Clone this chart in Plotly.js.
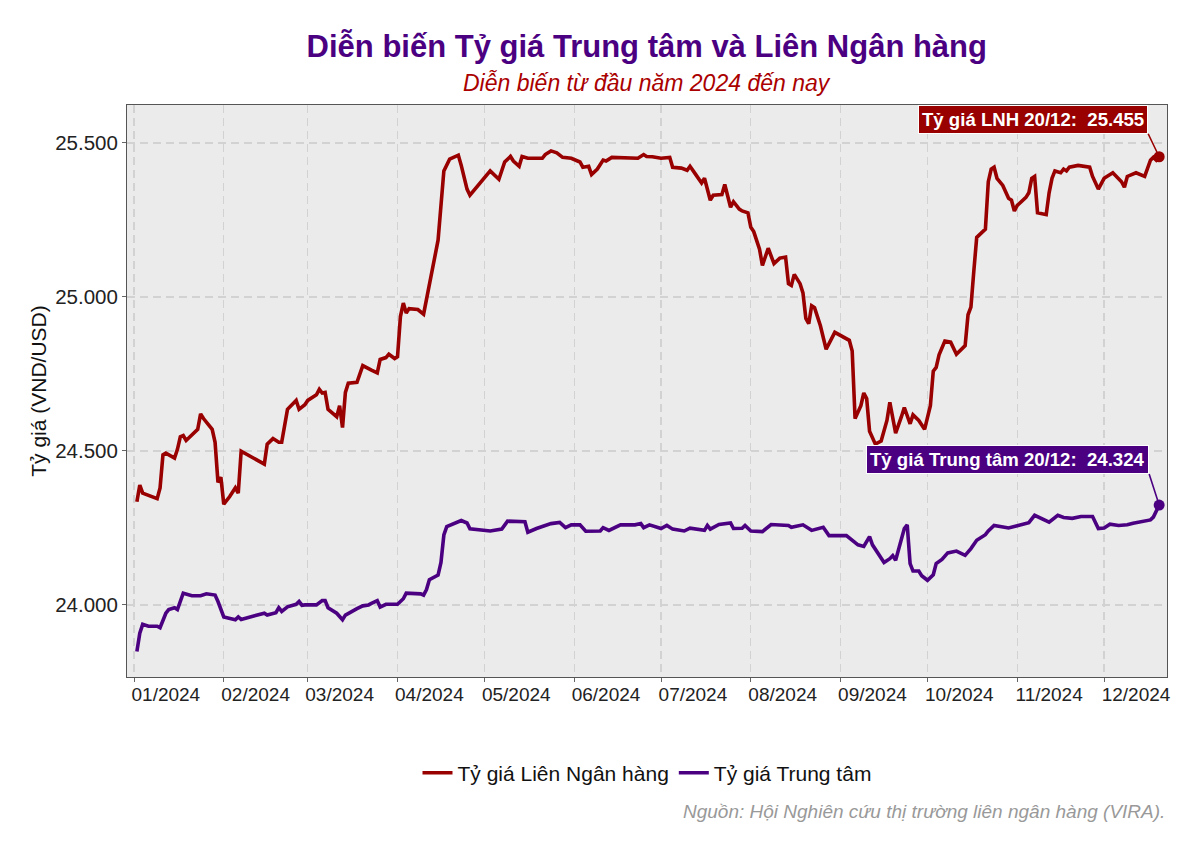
<!DOCTYPE html>
<html>
<head>
<meta charset="utf-8">
<script src="https://cdn.plot.ly/plotly-3.0.1.min.js"></script>
<style>html,body{margin:0;padding:0;background:#fff;}#chart{width:1200px;height:857px;}</style>
</head>
<body>
<div id="chart"></div>
<script>
// ---- Data ----
const lnhDates = ["2024-01-02","2024-01-03","2024-01-04","2024-01-09","2024-01-10","2024-01-11","2024-01-12","2024-01-15","2024-01-16","2024-01-17","2024-01-18","2024-01-19","2024-01-23","2024-01-24","2024-01-25","2024-01-28","2024-01-29","2024-01-30","2024-01-31","2024-02-01","2024-02-03","2024-02-05","2024-02-06","2024-02-07","2024-02-15","2024-02-16","2024-02-18","2024-02-20","2024-02-21","2024-02-23","2024-02-26","2024-02-27","2024-02-29","2024-03-01","2024-03-04","2024-03-05","2024-03-06","2024-03-07","2024-03-08","2024-03-11","2024-03-12","2024-03-13","2024-03-14","2024-03-15","2024-03-18","2024-03-20","2024-03-23","2024-03-25","2024-03-26","2024-03-28","2024-03-29","2024-03-31","2024-04-01","2024-04-02","2024-04-03","2024-04-04","2024-04-05","2024-04-08","2024-04-10","2024-04-11","2024-04-13","2024-04-15","2024-04-17","2024-04-19","2024-04-22","2024-04-23","2024-04-25","2024-04-26","2024-05-03","2024-05-06","2024-05-08","2024-05-10","2024-05-11","2024-05-13","2024-05-14","2024-05-16","2024-05-21","2024-05-22","2024-05-24","2024-05-26","2024-05-28","2024-05-31","2024-06-03","2024-06-04","2024-06-06","2024-06-07","2024-06-09","2024-06-11","2024-06-12","2024-06-14","2024-06-23","2024-06-25","2024-06-26","2024-06-28","2024-07-01","2024-07-04","2024-07-05","2024-07-08","2024-07-10","2024-07-11","2024-07-13","2024-07-15","2024-07-16","2024-07-18","2024-07-19","2024-07-22","2024-07-23","2024-07-25","2024-07-26","2024-07-28","2024-07-29","2024-07-31","2024-08-01","2024-08-02","2024-08-04","2024-08-05","2024-08-07","2024-08-09","2024-08-11","2024-08-13","2024-08-14","2024-08-15","2024-08-16","2024-08-18","2024-08-19","2024-08-20","2024-08-21","2024-08-22","2024-08-23","2024-08-25","2024-08-27","2024-08-28","2024-08-30","2024-09-04","2024-09-05","2024-09-06","2024-09-08","2024-09-09","2024-09-10","2024-09-11","2024-09-13","2024-09-15","2024-09-17","2024-09-18","2024-09-20","2024-09-22","2024-09-23","2024-09-25","2024-09-26","2024-09-28","2024-09-30","2024-10-02","2024-10-03","2024-10-04","2024-10-05","2024-10-07","2024-10-09","2024-10-11","2024-10-14","2024-10-15","2024-10-16","2024-10-17","2024-10-18","2024-10-21","2024-10-22","2024-10-23","2024-10-24","2024-10-25","2024-10-27","2024-10-29","2024-10-30","2024-10-31","2024-11-01","2024-11-04","2024-11-05","2024-11-06","2024-11-07","2024-11-08","2024-11-11","2024-11-12","2024-11-13","2024-11-14","2024-11-16","2024-11-17","2024-11-18","2024-11-19","2024-11-22","2024-11-26","2024-11-27","2024-11-29","2024-12-01","2024-12-04","2024-12-07","2024-12-08","2024-12-09","2024-12-12","2024-12-15","2024-12-17","2024-12-18","2024-12-19","2024-12-20"];
const lnhValues = [24335,24389,24363,24345,24380,24487,24493,24477,24505,24546,24550,24534,24570,24620,24605,24570,24528,24398,24415,24327,24351,24380,24363,24499,24457,24522,24540,24528,24528,24635,24664,24635,24650,24664,24682,24700,24688,24690,24635,24611,24647,24576,24690,24720,24723,24777,24762,24753,24797,24803,24814,24800,24806,24936,24980,24948,24962,24959,24944,24991,25084,25184,25409,25447,25460,25427,25350,25330,25409,25382,25438,25456,25441,25424,25456,25450,25450,25462,25474,25468,25453,25450,25438,25421,25424,25397,25415,25444,25441,25453,25450,25462,25456,25455,25450,25453,25421,25418,25411,25424,25397,25370,25385,25314,25330,25332,25365,25291,25309,25285,25279,25273,25226,25212,25155,25102,25158,25108,25126,25129,25043,25037,25073,25043,25013,24930,24913,24971,24965,24907,24830,24848,24885,24859,24824,24605,24647,24688,24670,24564,24522,24532,24599,24658,24558,24611,24641,24588,24617,24599,24570,24647,24759,24771,24812,24857,24853,24814,24842,24942,24967,25084,25193,25220,25374,25415,25421,25385,25362,25320,25314,25279,25297,25323,25338,25385,25391,25273,25267,25338,25385,25409,25403,25415,25409,25421,25427,25421,25391,25350,25385,25403,25374,25356,25391,25403,25391,25444,25453,25444,25455];

const ttDates = ["2024-01-02","2024-01-03","2024-01-04","2024-01-06","2024-01-09","2024-01-10","2024-01-12","2024-01-13","2024-01-15","2024-01-16","2024-01-18","2024-01-19","2024-01-21","2024-01-24","2024-01-26","2024-01-29","2024-01-30","2024-02-01","2024-02-03","2024-02-05","2024-02-06","2024-02-07","2024-02-15","2024-02-16","2024-02-19","2024-02-20","2024-02-21","2024-02-23","2024-02-26","2024-02-27","2024-02-28","2024-02-29","2024-03-04","2024-03-06","2024-03-07","2024-03-08","2024-03-11","2024-03-13","2024-03-14","2024-03-16","2024-03-18","2024-03-20","2024-03-22","2024-03-23","2024-03-25","2024-03-26","2024-03-28","2024-04-01","2024-04-03","2024-04-04","2024-04-09","2024-04-10","2024-04-11","2024-04-12","2024-04-14","2024-04-15","2024-04-16","2024-04-17","2024-04-18","2024-04-20","2024-04-22","2024-04-23","2024-04-25","2024-04-26","2024-05-03","2024-05-07","2024-05-09","2024-05-15","2024-05-16","2024-05-19","2024-05-24","2024-05-27","2024-05-29","2024-05-31","2024-06-03","2024-06-05","2024-06-10","2024-06-11","2024-06-13","2024-06-17","2024-06-22","2024-06-24","2024-06-25","2024-06-27","2024-07-01","2024-07-03","2024-07-05","2024-07-09","2024-07-11","2024-07-16","2024-07-17","2024-07-18","2024-07-21","2024-07-25","2024-07-26","2024-07-29","2024-07-30","2024-08-01","2024-08-05","2024-08-08","2024-08-14","2024-08-15","2024-08-19","2024-08-22","2024-08-26","2024-08-28","2024-09-03","2024-09-05","2024-09-07","2024-09-09","2024-09-11","2024-09-12","2024-09-14","2024-09-16","2024-09-18","2024-09-19","2024-09-20","2024-09-23","2024-09-24","2024-09-25","2024-09-26","2024-09-28","2024-09-29","2024-10-01","2024-10-03","2024-10-04","2024-10-06","2024-10-08","2024-10-11","2024-10-14","2024-10-16","2024-10-18","2024-10-21","2024-10-22","2024-10-24","2024-10-27","2024-10-29","2024-11-01","2024-11-05","2024-11-07","2024-11-12","2024-11-15","2024-11-17","2024-11-20","2024-11-23","2024-11-27","2024-11-29","2024-12-01","2024-12-03","2024-12-06","2024-12-09","2024-12-11","2024-12-15","2024-12-17","2024-12-18","2024-12-20"];
const ttValues = [23849,23908,23937,23931,23931,23926,23973,23985,23991,23985,24038,24036,24030,24030,24036,24032,24011,23961,23955,23952,23961,23953,23973,23967,23975,23991,23979,23994,24002,24011,23999,24000,24000,24014,24014,23991,23973,23952,23967,23979,23988,23997,24000,24005,24014,23993,24002,24002,24020,24038,24036,24032,24050,24082,24091,24097,24138,24227,24254,24262,24268,24274,24266,24247,24240,24246,24272,24270,24236,24248,24264,24268,24251,24260,24260,24239,24240,24251,24242,24260,24260,24264,24251,24260,24248,24258,24246,24240,24249,24242,24258,24246,24261,24266,24248,24249,24258,24240,24238,24261,24258,24252,24260,24242,24252,24225,24225,24210,24195,24190,24222,24195,24165,24138,24150,24160,24145,24248,24260,24134,24110,24110,24095,24080,24098,24134,24148,24169,24175,24161,24183,24210,24228,24240,24258,24252,24250,24257,24267,24291,24269,24291,24284,24281,24287,24287,24248,24250,24262,24258,24260,24265,24272,24276,24285,24324];

const seriesNames = ["Tỷ giá Liên Ngân hàng", "Tỷ giá Trung tâm"];
const seriesColors = ["#990000", "#4B0082"];
const monthTickVals = ["2024-01-12","2024-02-12","2024-03-12","2024-04-12","2024-05-12","2024-06-12","2024-07-12","2024-08-12","2024-09-12","2024-10-12","2024-11-12","2024-12-12"];
const monthTickText = ["01/2024","02/2024","03/2024","04/2024","05/2024","06/2024","07/2024","08/2024","09/2024","10/2024","11/2024","12/2024"];
const monthStarts = ["2024-01-01","2024-02-01","2024-03-01","2024-04-01","2024-05-01","2024-06-01","2024-07-01","2024-08-01","2024-09-01","2024-10-01","2024-11-01","2024-12-01"];
const yTickVals = [24000, 24500, 25000, 25500];
const yTickText = ["24.000", "24.500", "25.000", "25.500"];
const labelLNH = "Tỷ giá LNH 20/12:  25.455";
const labelTT = "Tỷ giá Trung tâm 20/12:  24.324";

const FONT = "Liberation Sans, Arial, sans-serif";
const lastL = lnhValues.length - 1, lastT = ttValues.length - 1;

const traces = [
  {x: lnhDates, y: lnhValues, type: "scatter", mode: "lines", name: seriesNames[0],
   line: {color: seriesColors[0], width: 3.6}},
  {x: ttDates, y: ttValues, type: "scatter", mode: "lines", name: seriesNames[1],
   line: {color: seriesColors[1], width: 3.6}},
  {x: [lnhDates[lastL]], y: [lnhValues[lastL]], type: "scatter", mode: "markers", showlegend: false,
   marker: {color: seriesColors[0], size: 11}, hoverinfo: "skip"},
  {x: [ttDates[lastT]], y: [ttValues[lastT]], type: "scatter", mode: "markers", showlegend: false,
   marker: {color: seriesColors[1], size: 11}, hoverinfo: "skip"}
];

const layout = {
  width: 1200, height: 857,
  paper_bgcolor: "#ffffff", plot_bgcolor: "#EBEBEB",
  font: {family: FONT, color: "#222"},
  margin: {l: 127, r: 33, t: 105, b: 180},
  title: {text: "<b>Diễn biến Tỷ giá Trung tâm và Liên Ngân hàng</b>", font: {family: FONT, size: 31, color: "#4B0082"},
          x: 0.539, xanchor: "center", y: 0.946, yanchor: "middle"},
  xaxis: {
    type: "date", range: ["2023-12-29 14:00", "2024-12-22 17:00"],
    tickmode: "array", tickvals: monthTickVals, ticktext: monthTickText,
    ticks: "", showgrid: false, zeroline: false,
    tickfont: {family: FONT, size: 19, color: "#222"},
    showline: true, mirror: true, linecolor: "#555", linewidth: 1,
    minor: {tickmode: "array", tickvals: monthStarts, ticks: "outside", ticklen: 4, tickcolor: "#666",
            showgrid: true, gridcolor: "#D2D2D2", griddash: "8px,5px", gridwidth: 1.3}
  },
  yaxis: {
    range: [23766, 25623], tickmode: "array", tickvals: yTickVals, ticktext: yTickText,
    ticks: "outside", ticklen: 4, tickcolor: "#666",
    tickfont: {family: FONT, size: 20.5, color: "#222"},
    showgrid: true, gridcolor: "#D2D2D2", griddash: "8px,5px", gridwidth: 1.3, zeroline: false,
    showline: true, mirror: true, linecolor: "#555", linewidth: 1,
    title: {text: "Tỷ giá (VND/USD)", font: {family: FONT, size: 21, color: "#111"}, standoff: 2}
  },
  legend: {orientation: "h", x: 0.5, xanchor: "center", y: -0.168, yanchor: "middle",
           font: {family: FONT, size: 21, color: "#111"}, bgcolor: "rgba(0,0,0,0)", itemwidth: 30},
  annotations: [
    {xref: "paper", yref: "paper", x: 0.5, y: 1.0385, xanchor: "center", yanchor: "middle",
     text: "<i>Diễn biến từ đầu năm 2024 đến nay</i>", showarrow: false,
     font: {family: FONT, size: 23, color: "#AA0000"}},
    {xref: "paper", yref: "paper", x: 1, y: -0.236, xanchor: "right", yanchor: "middle",
     text: "<i>Nguồn: Hội Nghiên cứu thị trường liên ngân hàng (VIRA).</i>", showarrow: false,
     font: {family: FONT, size: 19, color: "#999999"}},
    {x: lnhDates[lastL], y: lnhValues[lastL], xref: "x", yref: "y",
     text: "<b>" + labelLNH + "</b>", showarrow: true, arrowhead: 0, arrowwidth: 1.6, arrowcolor: seriesColors[0],
     ax: -11, ay: -23, xanchor: "right", yanchor: "bottom", standoff: 0,
     bgcolor: seriesColors[0], bordercolor: "#ffffff", borderwidth: 1, borderpad: 3,
     font: {family: FONT, size: 18.6, color: "#ffffff"}},
    {x: ttDates[lastT], y: ttValues[lastT], xref: "x", yref: "y",
     text: "<b>" + labelTT + "</b>", showarrow: true, arrowhead: 0, arrowwidth: 1.6, arrowcolor: seriesColors[1],
     ax: -10, ay: -31, xanchor: "right", yanchor: "bottom", standoff: 0,
     bgcolor: seriesColors[1], bordercolor: "#ffffff", borderwidth: 1, borderpad: 3,
     font: {family: FONT, size: 18.6, color: "#ffffff"}}
  ]
};

Plotly.newPlot("chart", traces, layout, {displayModeBar: false, staticPlot: true});
</script>
</body>
</html>
